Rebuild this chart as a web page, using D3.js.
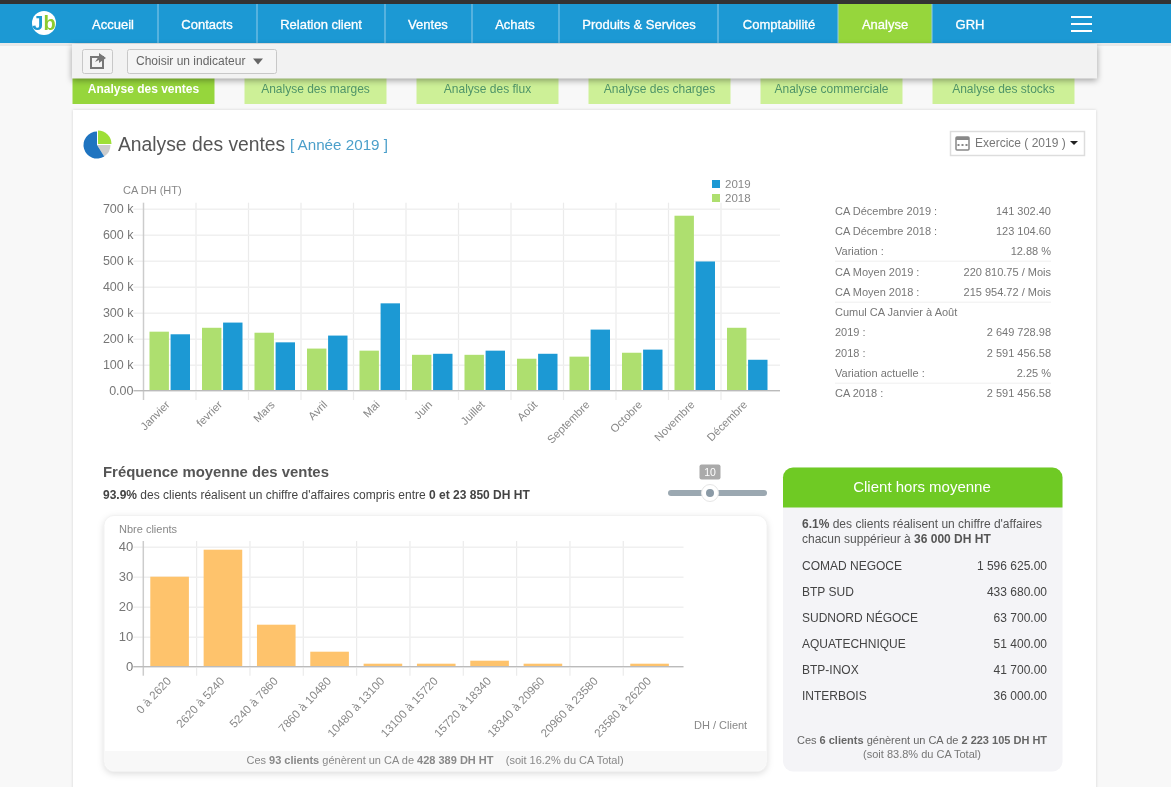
<!DOCTYPE html>
<html>
<head>
<meta charset="utf-8">
<title>Analyse des ventes</title>
<style type="text/css">
html, body { margin: 0; padding: 0; background: #f8f8f8; overflow: hidden; }
svg { display: block; filter: blur(0.35px); }
text { font-family: "Liberation Sans", Arial, sans-serif; }
</style>
<script src="https://cdnjs.cloudflare.com/ajax/libs/d3/7.8.5/d3.min.js"></script>
</head>
<body>
<svg id="page" width="1171" height="787"></svg>
<script>
var months = ['Janvier', 'fevrier', 'Mars', 'Avril', 'Mai', 'Juin', 'Juillet', 'Août', 'Septembre', 'Octobre', 'Novembre', 'Décembre'];
var ventes2018 = [227000, 242000, 223000, 162000, 154000, 138000, 138000, 123000, 131000, 146000, 673000, 242000];
var ventes2019 = [217000, 262000, 186000, 212000, 336000, 142000, 154000, 142000, 235000, 158000, 497000, 119000];
var ventesTicks = [0, 100000, 200000, 300000, 400000, 500000, 600000, 700000];

var tranches = ['0 à 2620', '2620 à 5240', '5240 à 7860', '7860 à 10480', '10480 à 13100', '13100 à 15720', '15720 à 18340', '18340 à 20960', '20960 à 23580', '23580 à 26200'];
var nbClients = [30, 39, 14, 5, 1, 1, 2, 1, 0, 1];
var clientsTicks = [0, 10, 20, 30, 40];

var navLabels = ['Accueil', 'Contacts', 'Relation client', 'Ventes', 'Achats', 'Produits & Services', 'Comptabilité', 'Analyse', 'GRH'];
var tabLabels = ['Analyse des ventes', 'Analyse des marges', 'Analyse des flux', 'Analyse des charges', 'Analyse commerciale', 'Analyse des stocks'];

var statLabels = ['CA Décembre 2019 :', 'CA Décembre 2018 :', 'Variation :', 'CA Moyen 2019 :', 'CA Moyen 2018 :', 'Cumul CA Janvier à Août', '2019 :', '2018 :', 'Variation actuelle :', 'CA 2018 :'];
var statValues = ['141 302.40', '123 104.60', '12.88 %', '220 810.75 / Mois', '215 954.72 / Mois', '', '2 649 728.98', '2 591 456.58', '2.25 %', '2 591 456.58'];

var clientNames = ['COMAD NEGOCE', 'BTP SUD', 'SUDNORD NÉGOCE', 'AQUATECHNIQUE', 'BTP-INOX', 'INTERBOIS'];
var clientCA = ['1 596 625.00', '433 680.00', '63 700.00', '51 400.00', '41 700.00', '36 000.00'];

var blue = '#1c99d4', green = '#aedf6f', orange = '#fec36c';
var svg = d3.select('#page');

// petit helper: texte simple, ou morceaux en gras -> [['txt', true], ...]
function label(parent, x, y, parts, size, color, anchor) {
	var t = parent.append('text')
		.attr('x', x).attr('y', y)
		.attr('font-size', size)
		.attr('fill', color)
		.attr('text-anchor', anchor || 'start')
		.attr('xml:space', 'preserve');
	if (typeof parts === 'string') {
		t.text(parts);
		return t;
	}
	parts.forEach(function(p) {
		t.append('tspan').attr('font-weight', p[1] ? 'bold' : 'normal').text(p[0]);
	});
	return t;
}

function box(parent, x, y, w, h, fill, r) {
	return parent.append('rect').attr('x', x).attr('y', y).attr('width', w).attr('height', h)
		.attr('fill', fill).attr('rx', r || 0);
}

/* ---- bandeau du haut ---- */
box(svg, 0, 0, 1171, 4, '#333333');
box(svg, 0, 4, 1171, 39, blue);
box(svg, 0, 43, 1171, 3, '#e9e9e9');
var navSeps = [158, 257, 385, 472, 559, 718, 838, 932];
var navCenters = [113, 207, 321, 428, 515, 639, 779, 885, 970];
box(svg, 838, 4, 94, 39, '#96d63c');
navSeps.forEach(function(x) { box(svg, x - 0.5, 4, 1, 39, '#8fcbe9'); });
navLabels.forEach(function(d, i) {
	label(svg, navCenters[i], 28.5, d, 13, '#ffffff', 'middle').attr('stroke', '#ffffff').attr('stroke-width', 0.3);
});
[17, 24, 31].forEach(function(y) { box(svg, 1071, y - 1, 21, 2, '#ffffff'); });

// logo
svg.append('circle').attr('cx', 44).attr('cy', 23).attr('r', 12).attr('fill', '#ffffff');
var logo = label(svg, 44, 30, [['J', true], ['b', true]], 20, blue, 'middle');
logo.select('tspan:last-child').attr('fill', '#8ccb2f');

/* ---- onglets ---- */
tabLabels.forEach(function(d, i) {
	var x = 72.5 + i * 172;
	box(svg, x, 76, 142, 28, i === 0 ? '#96d63c' : '#cdf097');
	label(svg, x + 71, 93, d, 12, i === 0 ? '#ffffff' : '#4f9468', 'middle')
		.attr('font-weight', i === 0 ? 'bold' : 'normal');
});

/* ---- barre d'outils ---- */
box(svg, 72, 44, 1025, 34.5, '#f2f2f2').style('filter', 'drop-shadow(0 2px 3px rgba(0,0,0,.35))');
box(svg, 82.5, 49.5, 30, 24, '#f4f4f4', 2).attr('stroke', '#c8c8c8');
box(svg, 91, 57, 12, 11, 'none').attr('stroke', '#777').attr('stroke-width', 2);
svg.append('path').attr('d', d3.line()([[95, 62], [99, 56], [99, 53], [106, 58], [99, 63], [99, 60]])).attr('fill', '#777');
box(svg, 127.5, 49.5, 149, 24, '#f5f5f5', 2).attr('stroke', '#c8c8c8');
label(svg, 136, 65, 'Choisir un indicateur', 12, '#666666');
svg.append('path').attr('d', 'M253,58.5h10l-5,6z').attr('fill', '#666');

/* ---- carte principale ---- */
box(svg, 73, 110, 1023, 680, '#ffffff').style('filter', 'drop-shadow(0 0 1.5px rgba(0,0,0,.15))');

// icone camembert
var pieIcon = svg.append('g').attr('transform', 'translate(97,145)');
var iconArc = d3.arc().innerRadius(0).outerRadius(13.5);
pieIcon.append('path').attr('d', iconArc({startAngle: Math.PI * 0.5, endAngle: Math.PI * 0.82})).attr('fill', '#cccccc');
pieIcon.append('path').attr('d', iconArc({startAngle: Math.PI * 0.82, endAngle: Math.PI * 2})).attr('fill', '#1f74c0');
pieIcon.append('path').attr('d', iconArc({startAngle: 0, endAngle: Math.PI * 0.5})).attr('fill', '#9edf37').attr('transform', 'translate(1,-1)');

label(svg, 118, 151, 'Analyse des ventes', 19.3, '#555555');
label(svg, 290, 150, '[ Année 2019 ]', 15.2, '#4b9fca');

box(svg, 950.5, 131.5, 134, 24, '#ffffff').attr('stroke', '#dddddd').attr('stroke-width', 1.5);
box(svg, 956, 137, 13, 13, 'none', 1).attr('stroke', '#888').attr('stroke-width', 1.5);
box(svg, 956, 137, 13, 3, '#888');
[958.5, 962.5, 966.5].forEach(function(x) { box(svg, x - 1, 144, 2, 2, '#888'); });
label(svg, 975, 147, 'Exercice ( 2019 )', 12, '#777777');
svg.append('path').attr('d', 'M1070,141h8l-4,4z').attr('fill', '#222');

/* ---- graphique CA ---- */
var y1 = d3.scaleLinear().domain([0, 700000]).range([390.7, 208.7]);
var x1 = d3.scaleBand().domain(months).range([143.5, 773.5]);
var xYear = d3.scaleBand().domain(['2018', '2019']).range([6, 46.5]).paddingInner(0.08);

function drawFrame(y, x, ticks, fmt, xEnd, top, bottom, tickSize) {
	var g = svg.append('g');
	var x0 = x.range()[0];

	// verticales aux bords de bande
	g.selectAll('line.v').data(x.domain().slice(1)).enter().append('line')
		.attr('class', 'v')
		.attr('x1', function(d) { return x(d); })
		.attr('x2', function(d) { return x(d); })
		.attr('y1', top).attr('y2', bottom)
		.attr('stroke', '#ebebeb').attr('stroke-width', 1.2);

	var yAxis = d3.axisLeft(y).tickValues(ticks).tickFormat(fmt).tickSize(-(xEnd - x0)).tickPadding(10);
	var ya = g.append('g').attr('transform', 'translate(' + x0 + ',0)').call(yAxis);
	ya.select('.domain').remove();
	ya.selectAll('.tick line').attr('x1', -10).attr('stroke', '#f0f0f0').attr('stroke-width', 1.5);
	ya.selectAll('text').attr('font-size', tickSize).attr('fill', '#777777')
		.style('font-family', '"Liberation Sans", Arial, sans-serif');

	g.append('line').attr('x1', x0).attr('x2', x0).attr('y1', top).attr('y2', bottom)
		.attr('stroke', '#cccccc').attr('stroke-width', 1.5);
	return g;
}

function drawBase(y, x, xEnd, size, angle, shift) {
	var x0 = x.range()[0];
	svg.append('line').attr('x1', x0 - 10).attr('x2', xEnd).attr('y1', y(0)).attr('y2', y(0))
		.attr('stroke', '#bbbbbb').attr('stroke-width', 1.2);
	var xa = svg.append('g').attr('transform', 'translate(0,' + (y(0) + 4) + ')')
		.call(d3.axisBottom(x).tickSize(0));
	xa.select('.domain').remove();
	xa.selectAll('text')
		.attr('font-size', size).attr('fill', '#888888')
		.attr('text-anchor', 'end')
		.attr('x', shift).attr('y', 8).attr('dy', '.35em')
		.attr('transform', 'rotate(' + angle + ',' + shift + ',8)')
		.style('font-family', '"Liberation Sans", Arial, sans-serif');
}

drawFrame(y1, x1, ventesTicks, function(d) { return d === 0 ? '0.00' : (d / 1000) + ' k'; }, 780, 202.7, 400, 12.5);

var groups = svg.append('g').selectAll('g').data(months).enter().append('g')
	.attr('transform', function(d) { return 'translate(' + x1(d) + ',0)'; });
groups.append('rect')
	.attr('x', xYear('2018')).attr('width', xYear.bandwidth())
	.attr('y', function(d, i) { return y1(ventes2018[i]); })
	.attr('height', function(d, i) { return y1(0) - y1(ventes2018[i]); })
	.attr('fill', green);
groups.append('rect')
	.attr('x', xYear('2019')).attr('width', xYear.bandwidth())
	.attr('y', function(d, i) { return y1(ventes2019[i]); })
	.attr('height', function(d, i) { return y1(0) - y1(ventes2019[i]); })
	.attr('fill', blue);

drawBase(y1, x1, 780, 11.2, -45, -2);
label(svg, 123, 194, 'CA DH (HT)', 11, '#888888');

box(svg, 712, 180, 8, 8, blue);
box(svg, 712, 194, 8, 8, green);
label(svg, 725, 188, '2019', 11.5, '#888888');
label(svg, 725, 202, '2018', 11.5, '#888888');

/* ---- tableau de droite ---- */
var statY = [210.7, 230.7, 250.7, 271.5, 291.5, 312, 332.3, 352.5, 372.6, 393];
statLabels.forEach(function(d, i) {
	label(svg, 835, statY[i] + 4, d, 11, '#777777');
	if (statValues[i]) label(svg, 1051, statY[i] + 4, statValues[i], 11, '#777777', 'end');
});
[260.7, 301.7, 382.7].forEach(function(y) { box(svg, 835, y, 216, 1, '#efefef'); });

/* ---- frequence ---- */
label(svg, 103, 476.5, 'Fréquence moyenne des ventes', 14.9, '#555555').attr('font-weight', 'bold');
label(svg, 103, 499, [['93.9%', true], [' des clients réalisent un chiffre d\'affaires compris entre ', false], ['0 et 23 850 DH HT', true]], 12, '#444444');

// slider
box(svg, 668, 490, 99, 6, '#9ba8b1', 3);
svg.append('circle').attr('cx', 710).attr('cy', 493).attr('r', 8.5).attr('fill', '#ffffff').attr('stroke', '#e6e6e6');
svg.append('circle').attr('cx', 710).attr('cy', 493).attr('r', 4).attr('fill', '#8b9aa6');
box(svg, 699.5, 464.5, 21, 15, '#aaaaaa', 2);
label(svg, 710, 476, '10', 10.5, '#ffffff', 'middle');

// carte histogramme
box(svg, 104, 515.5, 663, 256, '#ffffff', 10).attr('stroke', '#f2f2f2')
	.style('filter', 'drop-shadow(0 2px 3px rgba(0,0,0,.13))');
svg.append('path').attr('d', 'M104.5,751H766.5V761a10,10 0 0 1 -10,10H114.5a10,10 0 0 1 -10,-10Z').attr('fill', '#f8f8f8');
label(svg, 435, 764, [['Ces ', false], ['93 clients', true], [' génèrent un CA de ', false], ['428 389 DH HT', true], ['    (soit 16.2% du CA Total)', false]], 11, '#888888', 'middle');

var y2 = d3.scaleLinear().domain([0, 40]).range([666.7, 546.7]);
var x2 = d3.scaleBand().domain(tranches).range([143.3, 676.6]);

drawFrame(y2, x2, clientsTicks, d3.format('d'), 683.5, 541, 675.7, 13);

svg.append('g').selectAll('rect').data(tranches).enter().append('rect')
	.attr('x', function(d) { return x2(d) + 7; })
	.attr('width', 38.6)
	.attr('y', function(d, i) { return y2(nbClients[i]); })
	.attr('height', function(d, i) { return y2(0) - y2(nbClients[i]); })
	.attr('fill', orange);

drawBase(y2, x2, 683.5, 11.6, -47, -1);
label(svg, 119, 533, 'Nbre clients', 11, '#888888');
label(svg, 694, 729, 'DH / Client', 11, '#888888');

/* ---- client hors moyenne ---- */
box(svg, 783, 467.5, 279.5, 304, '#f4f4f7', 10);
svg.append('path').attr('d', 'M783,507.5V477.5a10,10 0 0 1 10,-10H1052.5a10,10 0 0 1 10,10V507.5Z').attr('fill', '#6fca24');
label(svg, 922, 492, 'Client hors moyenne', 15, '#ffffff', 'middle');
label(svg, 802, 527.5, [['6.1%', true], [' des clients réalisent un chiffre d\'affaires', false]], 12, '#555555');
label(svg, 802, 542.5, [['chacun suppérieur à ', false], ['36 000 DH HT', true]], 12, '#555555');

clientNames.forEach(function(d, i) {
	var y = 570 + i * 26;
	label(svg, 802, y, d, 12, '#444444');
	label(svg, 1047, y, clientCA[i], 12, '#444444', 'end');
});
label(svg, 922, 744, [['Ces ', false], ['6 clients', true], [' génèrent un CA de ', false], ['2 223 105 DH HT', true]], 11, '#666666', 'middle');
label(svg, 922, 758, '(soit 83.8% du CA Total)', 11, '#777777', 'middle');
</script>
</body>
</html>
